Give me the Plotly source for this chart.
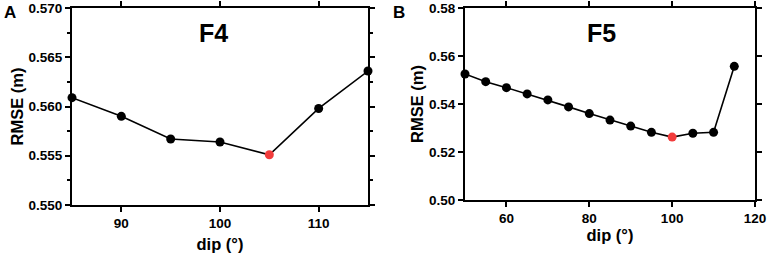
import plotly.graph_objects as go

# Panel A (F4)
dip_a = [85, 90, 95, 100, 105, 110, 115]
rmse_a = [0.5609, 0.5590, 0.5567, 0.5564, 0.5551, 0.5598, 0.5636]
best_a = 105
ticks_xa = [90, 100, 110]
ticks_ya = [0.550, 0.555, 0.560, 0.565, 0.570]

# Panel B (F5)
dip_b = [50, 55, 60, 65, 70, 75, 80, 85, 90, 95, 100, 105, 110, 115]
rmse_b = [0.5525, 0.5493, 0.5468, 0.5442, 0.5417, 0.5388, 0.5360, 0.5333,
          0.5308, 0.5282, 0.5262, 0.5278, 0.5282, 0.5557]
best_b = 100
ticks_xb = [60, 80, 100, 120]
ticks_yb = [0.50, 0.52, 0.54, 0.56, 0.58]

W, H = 768, 254
FONT = "Liberation Sans, Arial, Helvetica, sans-serif"

def px(x):
    return x / W

def py(y):
    return 1 - y / H

def colors(xs, best):
    return ["#f23c3c" if x == best else "black" for x in xs]

def bold(vals, fmt):
    return ["<b>" + format(v, fmt) + "</b>" for v in vals]

fig = go.Figure()
fig.add_trace(go.Scatter(x=dip_a, y=rmse_a, mode="lines+markers",
                         line=dict(color="black", width=1.6),
                         marker=dict(size=9, color=colors(dip_a, best_a)),
                         xaxis="x", yaxis="y", cliponaxis=False, showlegend=False))
fig.add_trace(go.Scatter(x=dip_b, y=rmse_b, mode="lines+markers",
                         line=dict(color="black", width=1.6),
                         marker=dict(size=9, color=colors(dip_b, best_b)),
                         xaxis="x2", yaxis="y2", cliponaxis=False, showlegend=False))

axis_common = dict(showline=True, linecolor="black", linewidth=2, mirror="allticks",
                   ticks="outside", ticklen=5, tickwidth=2, tickcolor="black",
                   showgrid=False, zeroline=False, automargin=False,
                   tickfont=dict(family=FONT, size=13.5, color="black"))
title_font = dict(family=FONT, size=16.5, color="black")

fig.update_layout(
    template="none",
    width=W, height=H,
    margin=dict(l=0, r=0, t=0, b=0, autoexpand=False),
    paper_bgcolor="white", plot_bgcolor="white",
    xaxis=dict(domain=[px(72), px(368)], range=[85, 115], tickvals=ticks_xa,
               ticktext=bold(ticks_xa, "d"),
               anchor="y", title=dict(text="<b>dip (°)</b>", font=title_font, standoff=8),
               **axis_common),
    yaxis=dict(domain=[py(205), py(8)], range=[0.550, 0.570], tickvals=ticks_ya,
               ticktext=bold(ticks_ya, ".3f"), anchor="x",
               minor=dict(dtick=0.0025, tick0=0.55, ticks="outside", ticklen=3, tickwidth=2,
                          tickcolor="black", showgrid=False),
               title=dict(text="<b>RMSE (m)</b>", font=title_font, standoff=1),
               **axis_common),
    xaxis2=dict(domain=[px(465), px(755)], range=[50, 120], tickvals=ticks_xb,
                ticktext=bold(ticks_xb, "d"),
                anchor="y2", title=dict(text="<b>dip (°)</b>", font=title_font, standoff=4),
                **axis_common),
    yaxis2=dict(domain=[py(200), py(8)], range=[0.50, 0.58], tickvals=ticks_yb,
                ticktext=bold(ticks_yb, ".2f"), anchor="x2",
                title=dict(text="<b>RMSE (m)</b>", font=title_font, standoff=1),
                **axis_common),
    annotations=[
        dict(text="<b>F4</b>", x=px(213), y=py(33), xref="paper", yref="paper",
             xanchor="center", yanchor="middle", showarrow=False,
             font=dict(family=FONT, size=25, color="black")),
        dict(text="<b>F5</b>", x=px(601), y=py(33), xref="paper", yref="paper",
             xanchor="center", yanchor="middle", showarrow=False,
             font=dict(family=FONT, size=25, color="black")),
        dict(text="<b>A</b>", x=px(10), y=py(12), xref="paper", yref="paper",
             xanchor="center", yanchor="middle", showarrow=False,
             font=dict(family=FONT, size=17, color="black")),
        dict(text="<b>B</b>", x=px(399), y=py(12), xref="paper", yref="paper",
             xanchor="center", yanchor="middle", showarrow=False,
             font=dict(family=FONT, size=17, color="black")),
    ],
)

fig.write_html("out.html", config={"displayModeBar": False},
               post_script="document.body.style.margin='0';")
